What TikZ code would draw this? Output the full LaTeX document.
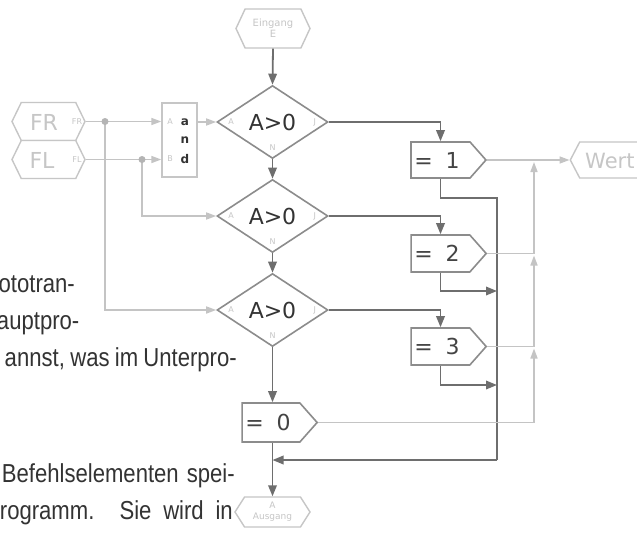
\documentclass[tikz,border=0pt]{standalone}
\usepackage{graphicx}
\usepackage{fontspec}
\setmainfont{Liberation Sans}
\newfontfamily\bodyfont{Liberation Sans}
\newfontfamily\diafont{DejaVu Sans}
\usetikzlibrary{shapes.geometric,shapes.symbols,arrows.meta}

\definecolor{flow}{HTML}{6E6E6E}
\definecolor{wire}{HTML}{C4C4C4}
\definecolor{dotc}{HTML}{B4B4B4}
\definecolor{frame}{HTML}{8C8C8C}
\definecolor{pale}{HTML}{C6C6C6}
\definecolor{ink}{HTML}{333333}
\definecolor{boxink}{HTML}{444444}

% condensed body line, #1 = width before condensing
\newcommand{\bodyline}[2]{\scalebox{0.85}[1]{\makebox[#1][s]{#2}}}

\tikzset{
  decision/.style={diamond, draw=frame, line width=1.6pt, fill=white,
    minimum width=111pt, minimum height=73pt, inner sep=0pt,
    text=ink, font=\diafont\fontsize{22}{22}\selectfont},
  assign/.style={signal, signal to=east, signal pointer angle=97,
    draw=frame, line width=1.6pt, fill=white,
    minimum width=75pt, minimum height=37pt, inner sep=0pt},
  port/.style={signal, signal to=west and east, signal pointer angle=128,
    draw=pale, line width=1.4pt, fill=white, inner sep=0pt},
  flowline/.style={draw=flow, line width=1.8pt},
  flowarrow/.style={flowline, -{Triangle[length=11pt,width=8.5pt]}},
  wireline/.style={draw=wire, line width=1.6pt},
  wirearrow/.style={wireline, -{Triangle[length=10pt,width=7pt]}},
  tinylbl/.style={text=pale, inner sep=0pt, font=\diafont\fontsize{8}{8}\selectfont},
  bigpale/.style={text=pale, inner sep=0pt, font=\diafont\fontsize{22}{22}\selectfont},
  boxtxt/.style={text=boxink, inner sep=0pt, font=\diafont\fontsize{22}{22}\selectfont},
  bodytxt/.style={text=ink, inner sep=0pt, anchor=base east,
    font=\bodyfont\fontsize{26}{26}\selectfont},
}

\begin{document}
\begin{tikzpicture}[x=1pt,y=-1pt]
\fill[white] (0,0) rectangle (637,535);
\useasboundingbox (0,0) rectangle (637,535);
\clip (0,0) rectangle (637,535);

% page text running beside the chart
\node[bodytxt] (p1) at (75,292) {\bodyline{89.6pt}{ototran-}};
\node[bodytxt] (p2) at (72,329) {\bodyline{88pt}{auptpro-}};
\node[bodytxt] (p3) at (237,366) {\bodyline{273pt}{annst, was im Unterpro-}};
\node[bodytxt] (p4) at (235,482) {\bodyline{274pt}{Befehlselementen spei-}};
\node[bodytxt] (p5) at (233,519) {\bodyline{274pt}{rogramm. Sie wird in}};

% entry and exit
\node[port, minimum width=74pt, minimum height=39pt, signal pointer angle=130,
      text=pale, align=center, font=\diafont\fontsize{10}{11}\selectfont]
      (ein) at (273,28.5) {Eingang\\E};
\node[port, minimum width=75pt, minimum height=30pt, signal pointer angle=115,
      text=pale, align=center, font=\diafont\fontsize{9}{11}\selectfont]
      (aus) at (272.5,512) {A\\Ausgang};

% inputs FR, FL
\node[port, minimum width=73pt, minimum height=38pt] (fr) at (48.5,121.5) {};
\node[port, minimum width=73pt, minimum height=38pt] (fl) at (48.5,159.5) {};
\node[bigpale] (frt) at (44,122) {FR};
\node[bigpale] (flt) at (42,160) {FL};
\node[tinylbl] (frs) at (77,122) {FR};
\node[tinylbl] (fls) at (77,160) {FL};

% and gate
\node[draw=pale, line width=1.4pt, fill=white, minimum width=35pt,
      minimum height=74pt, inner sep=0pt] (andb) at (179.5,140) {};
\node[text=ink, inner sep=0pt, font=\diafont\bfseries\fontsize{12}{12}\selectfont] (ga) at (185,122) {a};
\node[text=ink, inner sep=0pt, font=\diafont\bfseries\fontsize{12}{12}\selectfont] (gn) at (185,140) {n};
\node[text=ink, inner sep=0pt, font=\diafont\bfseries\fontsize{12}{12}\selectfont] (gd) at (185,159) {d};
\node[tinylbl] (gia) at (170,122) {A};
\node[tinylbl] (gib) at (170,159) {B};

% decisions
\node[decision] (d1) at (272.5,122) {A>0};
\node[decision] (d2) at (272.5,216) {A>0};
\node[decision] (d3) at (272.5,310) {A>0};
\foreach \d in {d1,d2,d3}{
  \node[tinylbl] (\d a) at ([xshift=15pt]\d.west) {A};
  \node[tinylbl] (\d j) at ([xshift=-14pt]\d.east) {J};
  \node[tinylbl] (\d n) at ([yshift=12pt]\d.south) {N};
}

% assignments
\node[assign, minimum height=36pt] (s1) at (440.5,160) {};
\node[assign] (s2) at (440.5,253.5) {};
\node[assign] (s3) at (440.5,346.5) {};
\node[assign, minimum height=39pt] (s0) at (271,422.5) {};
\node[boxtxt] (s1t) at (437,160) {=\hspace{13pt}1};
\node[boxtxt] (s2t) at (437,253.5) {=\hspace{13pt}2};
\node[boxtxt] (s3t) at (437,346.5) {=\hspace{13pt}3};
\node[boxtxt] (s0t) at (268,422.5) {=\hspace{13pt}0};

% value output
\node[signal, signal to=west, signal pointer angle=125, draw=pale,
      line width=1.4pt, fill=white, minimum width=110pt, minimum height=36pt,
      inner sep=0pt] (wert) at (630,160) {};
\node[bigpale, anchor=west, font=\diafont\fontsize{21}{21}\selectfont]
      (wertt) at (585,161) {Wert};

% main flow
\draw[flowarrow] (ein.south) -- (d1.north);
\draw[flowarrow] (d1.south) -- (d2.north);
\draw[flowarrow] (d2.south) -- (d3.north);
\draw[flowarrow] (d3.south) -- (d3.south |- s0.north);
\draw[flowarrow] (d3.south |- s0.south) -- (aus.north);
\draw[flowarrow] (d1.east) -| (s1.north);
\draw[flowarrow] (d2.east) -| (s2.north);
\draw[flowarrow] (d3.east) -| (s3.north);

% collecting bus back to the exit
\coordinate (bus1) at (497,198);
\coordinate (bus2) at (497,291);
\coordinate (bus3) at (497,385);
\coordinate (busend) at (497,460);
\draw[flowline] (s1.south) |- (bus1) -- (busend);
\draw[flowarrow] (busend) -- (aus.north |- busend);
\draw[flowarrow] (s2.south) |- (bus2);
\draw[flowarrow] (s3.south) |- (bus3);

% input wires
\coordinate (jr) at (105,121.5);
\coordinate (jl) at (142,159.5);
\draw[wirearrow] (fr.east) -- (fr.east -| andb.west);
\draw[wirearrow] (fl.east) -- (fl.east -| andb.west);
\draw[wirearrow] (jr) |- (d3.west);
\draw[wirearrow] (jl) |- (d2.west);
\draw[wirearrow] (andb.east |- d1.west) -- (d1.west);
\fill[dotc] (jr) circle (3.5pt);
\fill[dotc] (jl) circle (3.5pt);

% value wires
\coordinate (c1) at (534,160);
\coordinate (c2) at (534,253.5);
\coordinate (c3) at (534,346.5);
\coordinate (c0) at (534,422.5);
\draw[wirearrow] (s1.east) -- (wert.west);
\draw[wireline] (s2.east) -- (c2);
\draw[wireline] (s3.east) -- (c3);
\draw[wireline] (s0.east) -- (c0);
\draw[wirearrow] (c0) -- ([yshift=-2pt]c3);
\draw[wirearrow] (c3) -- ([yshift=-2pt]c2);
\draw[wirearrow] (c2) -- ([yshift=-2pt]c1);
\end{tikzpicture}
\end{document}
